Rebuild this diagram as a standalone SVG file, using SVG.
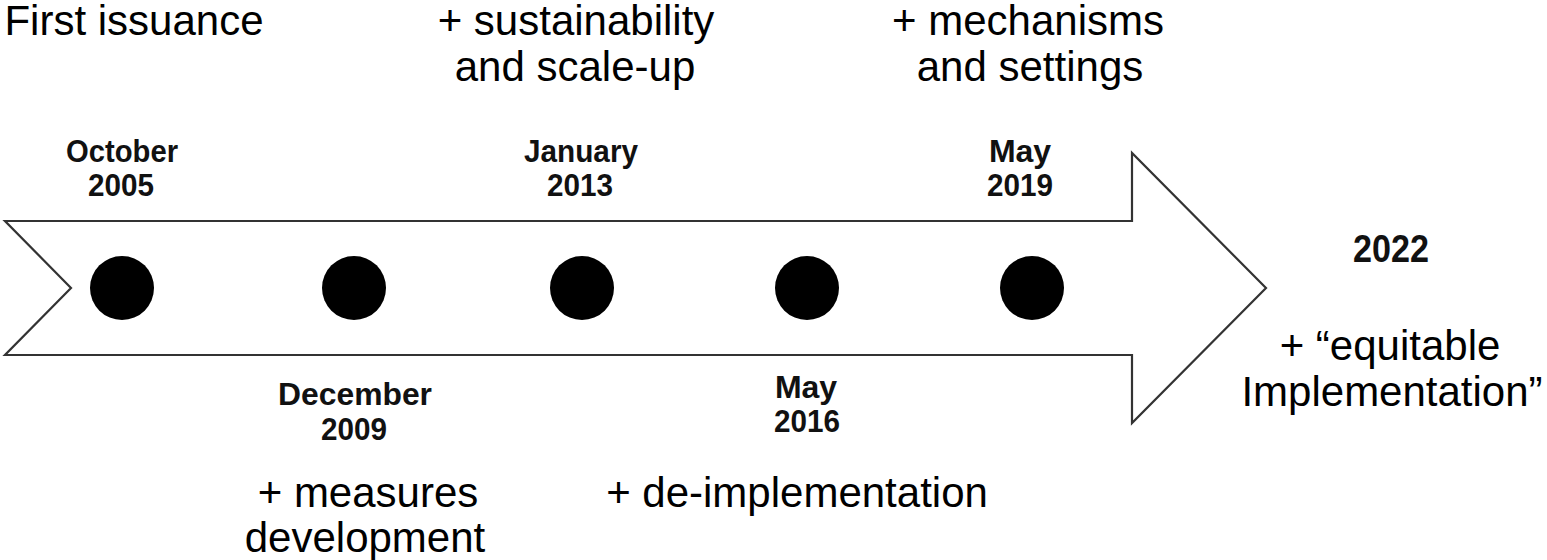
<svg xmlns="http://www.w3.org/2000/svg" width="1547" height="560" viewBox="0 0 1547 560">
<style>
.note{font-family:"Liberation Sans",Arial,sans-serif;font-size:42px;fill:#000;text-anchor:middle}
.date{font-family:"Liberation Sans",Arial,sans-serif;font-size:32px;font-weight:bold;fill:#111;text-anchor:middle}
.dot{fill:#000}
.arrow{fill:#fff;stroke:#333;stroke-width:2.2;stroke-linejoin:miter}
</style>
<rect width="1547" height="560" fill="#fff"/>
<g id="connectors">
<polygon class="arrow" points="5,221 1132,221 1132,153 1266,288 1132,423 1132,355 5,355 71,288"/>
</g>
<g id="n2005">
<circle class="dot" cx="122" cy="288" r="32"/>
<text class="date" x="122" y="162" textLength="112" lengthAdjust="spacingAndGlyphs">October</text>
<text class="date" x="121" y="196" textLength="66" lengthAdjust="spacingAndGlyphs">2005</text>
<text class="note" x="134" y="35">First issuance</text>
</g>
<g id="n2009">
<circle class="dot" cx="354" cy="288" r="32"/>
<text class="date" x="355" y="405" textLength="154" lengthAdjust="spacingAndGlyphs">December</text>
<text class="date" x="354" y="440" textLength="66" lengthAdjust="spacingAndGlyphs">2009</text>
<text class="note" x="368" y="507">+ measures</text>
<text class="note" x="365" y="552">development</text>
</g>
<g id="n2013">
<circle class="dot" cx="582" cy="288" r="32"/>
<text class="date" x="581" y="162" textLength="114" lengthAdjust="spacingAndGlyphs">January</text>
<text class="date" x="580" y="196" textLength="66" lengthAdjust="spacingAndGlyphs">2013</text>
<text class="note" x="576" y="35">+ sustainability</text>
<text class="note" x="575" y="81">and scale-up</text>
</g>
<g id="n2016">
<circle class="dot" cx="807" cy="288" r="32"/>
<text class="date" x="806" y="398">May</text>
<text class="date" x="807" y="432" textLength="66" lengthAdjust="spacingAndGlyphs">2016</text>
<text class="note" x="797" y="507">+ de-implementation</text>
</g>
<g id="n2019">
<circle class="dot" cx="1032" cy="288" r="32"/>
<text class="date" x="1020" y="162">May</text>
<text class="date" x="1020" y="196" textLength="66" lengthAdjust="spacingAndGlyphs">2019</text>
<text class="note" x="1028" y="35">+ mechanisms</text>
<text class="note" x="1030" y="81">and settings</text>
</g>
<g id="n2022">
<text class="date" x="1391" y="262" style="font-size:38px" textLength="76" lengthAdjust="spacingAndGlyphs">2022</text>
<text class="note" x="1390" y="360">+ “equitable</text>
<text class="note" x="1392" y="406">Implementation”</text>
</g>
</svg>
